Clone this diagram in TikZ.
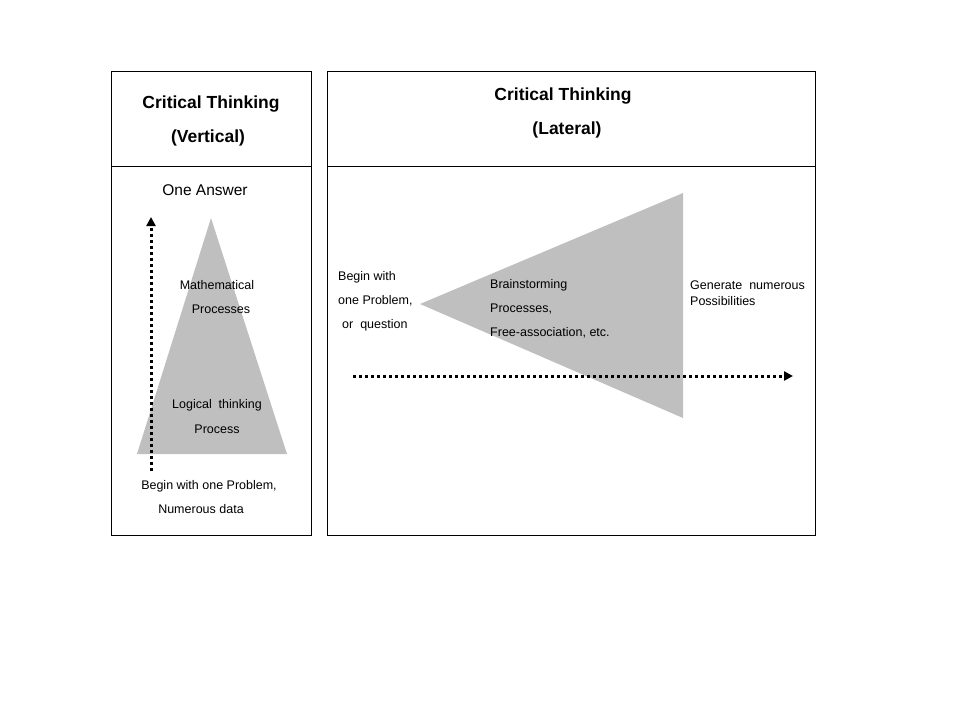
\documentclass[tikz,border=0pt]{standalone}
\usepackage{fontspec}
\setmainfont{Liberation Sans}
\usetikzlibrary{arrows.meta}
\begin{document}
\begin{tikzpicture}[x=1pt,y=-1pt,
  panel/.style={draw=black,line width=0.8pt},
  tri/.style={fill=black!25,draw=none},
  title/.style={font=\fontsize{17.5}{20}\selectfont\bfseries,inner sep=0pt},
  big/.style={font=\fontsize{15.5}{18}\selectfont,inner sep=0pt},
  small/.style={font=\fontsize{12.5}{15}\selectfont,inner sep=0pt},
  dotarrow/.style={line width=3pt,dash pattern=on 3pt off 3pt,-{Triangle[length=9pt,width=9pt]}}
]
\useasboundingbox (0,0) rectangle (960,720);
% panels
\draw[panel] (111,71) rectangle (311,535);
\draw[panel] (111,166) -- (311,166);
\draw[panel] (327,71) rectangle (815,535);
\draw[panel] (327,166) -- (815,166);
% triangles
\fill[tri] (211,218) -- (287,454) -- (137,454) -- cycle;
\fill[tri] (420,304) -- (683,193) -- (683,418) -- cycle;
% arrows
\coordinate (vs) at (151,471);
\coordinate (ve) at (151,217);
\draw[dotarrow] (vs) -- (ve);
\coordinate (hs) at (353,376);
\coordinate (he) at (793,376);
\draw[dotarrow] (hs) -- (he);
% titles
\node[title] (t1) at (211,104) {Critical Thinking};
\node[title] (t2) at (208,138) {(Vertical)};
\node[title] (t3) at (563,96) {Critical Thinking};
\node[title] (t4) at (567,130) {(Lateral)};
% left texts
\node[big] (oa) at (205,190) {One Answer};
\node[small] (m1) at (217,285) {Mathematical};
\node[small] (m2) at (221,309) {Processes};
\node[small] (l1) at (217,405) {Logical\ \ thinking};
\node[small] (l2) at (217,429) {Process};
\node[small] (b1) at (209,486) {Begin with one Problem,};
\node[small] (b2) at (201,509) {Numerous data};
% right texts
\node[small,anchor=west] (r1) at (338,277) {Begin with};
\node[small,anchor=west] (r2) at (338,301) {one Problem,};
\node[small,anchor=west] (r3) at (342,325) {or\ \ question};
\node[small,anchor=west] (s1) at (490,285) {Brainstorming};
\node[small,anchor=west] (s2) at (490,309) {Processes,};
\node[small,anchor=west] (s3) at (490,333) {Free-association, etc.};
\node[small,anchor=west] (g1) at (690,285) {Generate\ \ numerous};
\node[small,anchor=west] (g2) at (690,301) {Possibilities};
\end{tikzpicture}
\end{document}
